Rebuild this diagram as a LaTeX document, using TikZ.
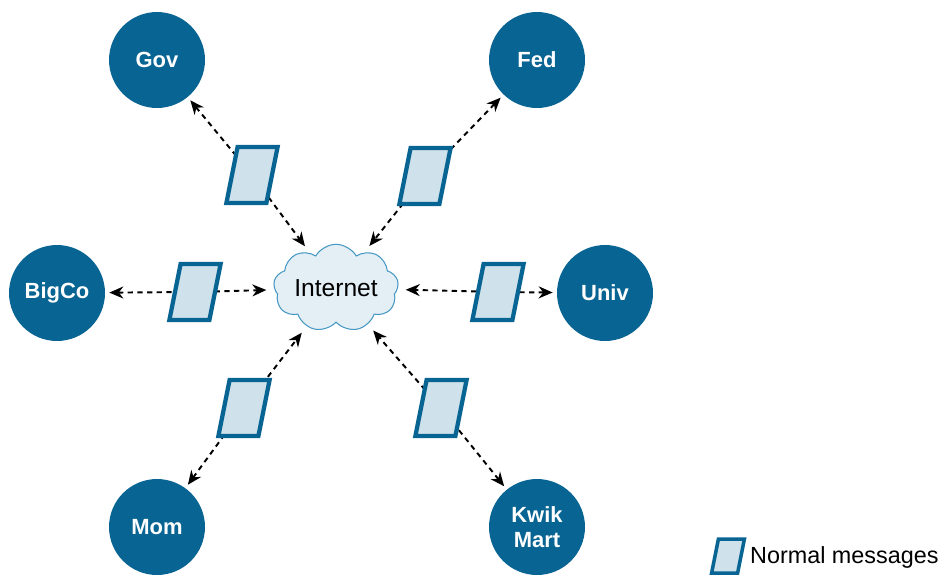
\documentclass[tikz,border=0pt]{standalone}
\usepackage{fontspec}
\setmainfont{Liberation Sans}
\usetikzlibrary{shapes.symbols,arrows.meta,backgrounds}
\definecolor{siteblue}{RGB}{8,100,146}
\definecolor{msgfill}{RGB}{207,226,236}
\definecolor{cloudfill}{RGB}{227,238,245}
\definecolor{cloudline}{RGB}{72,152,196}
\begin{document}
\begin{tikzpicture}[x=0.02cm,y=-0.02cm,
    site/.style={circle,fill=siteblue,text=white,minimum size=1.92cm,inner sep=0pt,
        align=center,font=\fontsize{12.5}{14.5}\selectfont\bfseries},
    msg/.style={draw=siteblue,fill=msgfill,line width=0.085cm,minimum width=0.8cm,
        minimum height=1.12cm,inner sep=0pt,xslant=0.2},
    link/.style={{Stealth[length=0.28cm,width=0.24cm]}-{Stealth[length=0.28cm,width=0.24cm]},
        line width=1.1pt,dash pattern=on 3pt off 2.5pt,shorten <=0.08cm,shorten >=0.16cm}]
    \useasboundingbox (0,0) rectangle (945,575);

    \node[site] (gov) at (157,60) {Gov};
    \node[site] (fed) at (537,60) {Fed};
    \node[site] (bigco) at (57,293) {BigCo};
    \node[site] (univ) at (605,293) {Univ};
    \node[site] (mom) at (157,527) {Mom};
    \node[site] (kwik) at (537,527) {Kwik\\Mart};

    \node[cloud,cloud puffs=9,cloud puff arc=120,cloud ignores aspect,
        minimum width=2.5cm,minimum height=1.75cm,inner sep=0pt,
        draw=cloudline,fill=cloudfill,line width=0.6pt,
        font=\fontsize{14}{16}\selectfont] (net) at (336,288) {Internet};

    \node[msg] (mgov) at (252,175) {};
    \node[msg] (mfed) at (425,176) {};
    \node[msg] (mbigco) at (195,292) {};
    \node[msg] (muniv) at (498,292) {};
    \node[msg] (mmom) at (244,408) {};
    \node[msg] (mkwik) at (441,408) {};

    \begin{scope}[on background layer]
        \draw[link] (gov) -- (mgov.center) -- (net);
        \draw[link] (fed) -- (mfed.center) -- (net);
        \draw[link] (bigco) -- (mbigco.center) -- (net);
        \draw[link] (univ) -- (muniv.center) -- (net);
        \draw[link] (mom) -- (mmom.center) -- (net);
        \draw[link] (kwik) -- (mkwik.center) -- (net);
    \end{scope}

    % legend
    \node[msg,minimum width=0.52cm,minimum height=0.68cm,line width=0.07cm] (legmsg) at (728,556) {};
    \node[anchor=west,font=\fontsize{13.3}{15}\selectfont] (legtext) at (744,557) {Normal messages};
\end{tikzpicture}
\end{document}
